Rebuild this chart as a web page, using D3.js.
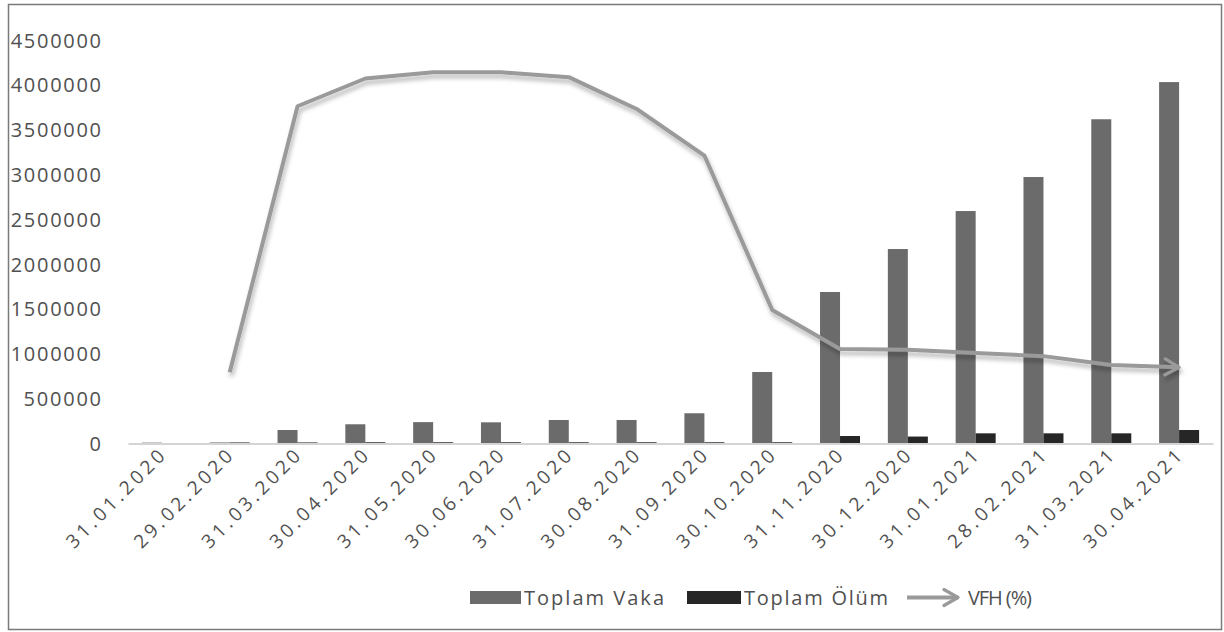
<!DOCTYPE html>
<html>
<head>
<meta charset="utf-8">
<script src="https://cdn.jsdelivr.net/npm/d3@7/dist/d3.min.js"></script>
<style>
  html, body { margin: 0; padding: 0; background: #fff; }
  svg text { font-family: "Open Sans", "DejaVu Sans", sans-serif; fill: #505050; }
</style>
</head>
<body>
<svg id="chart" width="1224" height="632"></svg>
<script>
// Monthly snapshot dates
const categories = ["31.01.2020","29.02.2020","31.03.2020","30.04.2020","31.05.2020","30.06.2020",
  "31.07.2020","30.08.2020","31.09.2020","30.10.2020","31.11.2020","30.12.2020",
  "31.01.2021","28.02.2021","31.03.2021","30.04.2021"];

// Toplam Vaka (total cases)
const vaka = [4000, 6000, 145000, 209000, 233000, 231000, 257000, 257000, 332000, 793000,
  1686000, 2166000, 2590000, 2970000, 3615000, 4030000];

// Toplam Ölüm (total deaths)
const olum = [0, 6000, 6000, 8000, 8000, 8000, 8000, 8000, 8000, 8000,
  78000, 72000, 108000, 108000, 108000, 145000];

// VFH (%) line, plotted against the same axis
const vfh = [null, 790000, 3760000, 4070000, 4140000, 4140000, 4085000, 3730000, 3210000, 1485000,
  1050000, 1040000, 1005000, 970000, 870000, 845000];

// Y axis ticks
const yTicks = [0, 500000, 1000000, 1500000, 2000000, 2500000, 3000000, 3500000, 4000000, 4500000];

const legendItems = ["Toplam Vaka", "Toplam Ölüm", "VFH (%)"];

const svg = d3.select("#chart");

// outer frame
svg.append("rect")
  .attr("x", 8.5).attr("y", 4.5).attr("width", 1213).attr("height", 625)
  .attr("fill", "none").attr("stroke", "#7a7a7a").attr("stroke-width", 1.5);

const defs = svg.append("defs");
const shadow = defs.append("filter").attr("id", "lineShadow")
  .attr("x", "-5%").attr("y", "-10%").attr("width", "110%").attr("height", "130%");
shadow.append("feDropShadow").attr("dx", 1.5).attr("dy", 4).attr("stdDeviation", 2.2)
  .attr("flood-color", "#000").attr("flood-opacity", 0.28);

defs.append("marker").attr("id", "arrowHead")
  .attr("viewBox", "0 0 10 10").attr("refX", 8).attr("refY", 5)
  .attr("markerWidth", 5).attr("markerHeight", 5).attr("orient", "auto")
  .attr("markerUnits", "strokeWidth")
  .append("path").attr("d", "M1,1 L8,5 L1,9").attr("fill", "none")
  .attr("stroke", "#9a9a9a").attr("stroke-width", 1.6).attr("stroke-linecap", "round")
  .attr("stroke-linejoin", "round");

const x = d3.scaleBand().domain(categories).range([128, 1213]).paddingInner(0).paddingOuter(0);
const y = d3.scaleLinear().domain([0, 4500000]).range([443, 40]);
const barW = 20;

// y tick labels
const yAxis = d3.axisLeft(y).tickValues(yTicks).tickSize(0).tickPadding(0)
  .tickFormat(d => String(d));
const yg = svg.append("g").attr("transform", "translate(101,0)").call(yAxis);
yg.select(".domain").remove();
yg.selectAll("text")
  .attr("font-size", 20).attr("fill", "#525252")
  .attr("font-family", "Open Sans, sans-serif")
  .attr("dy", "0.36em")
  .each(function(d) {
    const s = String(d);
    if (s.length > 1) d3.select(this).attr("textLength", s.length * 12.9).attr("lengthAdjust", "spacing");
  });

// bars
const g = svg.append("g");
g.selectAll("rect.vaka").data(categories).join("rect").attr("class", "vaka")
  .attr("x", (c) => x(c) + x.bandwidth() / 2 - barW)
  .attr("width", barW)
  .attr("y", (c, i) => y(vaka[i]))
  .attr("height", (c, i) => y(0) - y(vaka[i]))
  .attr("fill", "#6b6b6b");

g.selectAll("rect.olum").data(categories).join("rect").attr("class", "olum")
  .attr("x", (c) => x(c) + x.bandwidth() / 2)
  .attr("width", barW)
  .attr("y", (c, i) => y(olum[i]))
  .attr("height", (c, i) => y(0) - y(olum[i]))
  .attr("fill", "#262626");

// category axis line
const xAxis = d3.axisBottom(x).tickSize(0).tickPadding(0);
const xg = svg.append("g").attr("transform", "translate(0,443.5)").call(xAxis);
xg.select(".domain").attr("stroke", "#d4d4d4").attr("stroke-width", 2);
xg.selectAll(".tick text")
  .attr("font-size", 19).attr("fill", "#525252")
  .attr("font-family", "Open Sans, sans-serif")
  .attr("text-anchor", "end")
  .attr("textLength", 130).attr("lengthAdjust", "spacing")
  .attr("y", 0).attr("dy", 0)
  .attr("transform", "translate(4,14) rotate(-45)");

// VFH line with arrow end
const pts = categories.map((c, i) => [x(c) + x.bandwidth() / 2, vfh[i]]).filter(p => p[1] != null);
const line = d3.line().x(p => p[0]).y(p => y(p[1]));
svg.append("path").datum(pts)
  .attr("d", line)
  .attr("fill", "none")
  .attr("stroke", "#9a9a9a")
  .attr("stroke-width", 4)
  .attr("stroke-linejoin", "round")
  .attr("filter", "url(#lineShadow)")
  .attr("marker-end", "url(#arrowHead)");

// legend
const lg = svg.append("g");
lg.append("rect").attr("x", 470).attr("y", 591).attr("width", 51).attr("height", 13).attr("fill", "#6b6b6b");
lg.append("text").attr("x", 524).attr("y", 605).attr("font-size", 20)
  .attr("textLength", 140).attr("lengthAdjust", "spacing").text(legendItems[0]);
lg.append("rect").attr("x", 687).attr("y", 591).attr("width", 54).attr("height", 13).attr("fill", "#262626");
lg.append("text").attr("x", 744).attr("y", 605).attr("font-size", 20)
  .attr("textLength", 144).attr("lengthAdjust", "spacing").text(legendItems[1]);
lg.append("line").attr("x1", 907).attr("y1", 597.5).attr("x2", 958).attr("y2", 597.5)
  .attr("stroke", "#9a9a9a").attr("stroke-width", 4)
  .attr("marker-end", "url(#arrowHead)");
lg.append("text").attr("x", 968).attr("y", 605).attr("font-size", 20)
  .attr("textLength", 64).attr("lengthAdjust", "spacing").text(legendItems[2]);
</script>
</body>
</html>
